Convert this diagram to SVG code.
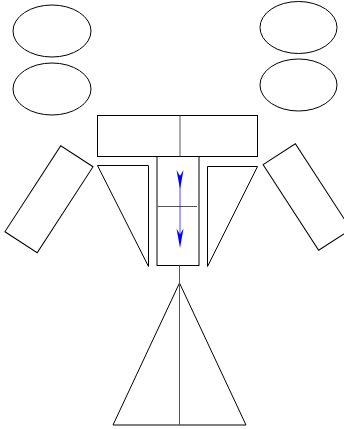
<svg xmlns="http://www.w3.org/2000/svg" width="344" height="429" viewBox="0 0 344 429">
<style>
.s{fill:#fff;stroke:#000;stroke-width:1}
.g{fill:none;stroke:#555;stroke-width:1}
.b{fill:none;stroke:#0000ff;stroke-width:1;stroke-opacity:0.7}
.bh{fill:#0000ff;stroke:none}
</style>
<rect width="344" height="429" fill="#fff"/>
<g id="ellipse-tl"><ellipse class="s" cx="52" cy="31" rx="39" ry="26"/></g>
<g id="ellipse-ml"><ellipse class="s" cx="52" cy="89" rx="39" ry="26"/></g>
<g id="ellipse-tr"><ellipse class="s" cx="298.5" cy="27.5" rx="38.5" ry="26"/></g>
<g id="ellipse-mr"><ellipse class="s" cx="298.5" cy="85" rx="38.5" ry="26"/></g>
<g id="top-bar"><rect class="s" x="97.5" y="115.5" width="160" height="41"/></g>
<g id="left-arm"><rect class="s" x="29.75" y="148" width="38.5" height="102.5" transform="rotate(33 49 199.2)"/></g>
<g id="right-arm"><rect class="s" x="287.75" y="146" width="38.5" height="102" transform="rotate(-33 307 197)"/></g>
<g id="left-tri"><polygon class="s" points="97.5,165.5 148.5,165.5 148.5,266.5"/></g>
<g id="right-tri"><polygon class="s" points="207.5,166.5 257.5,166.5 207.5,266.5"/></g>
<g id="column"><rect class="s" x="157" y="156.5" width="42" height="109"/><line class="g" x1="157" y1="206.5" x2="197" y2="206.5"/></g>
<g id="bottom-tri"><polygon class="s" points="179.5,283 246,425 113,425"/></g>
<g id="connectors">
<line class="g" x1="180" y1="115.5" x2="180" y2="156.5"/>
<line class="g" x1="179.5" y1="265.5" x2="179.5" y2="425" stroke-width="1.5"/>
<line class="b" x1="180" y1="175" x2="180" y2="236"/>
<path class="bh" d="M180,189 L176.5,170 L180,176 L183.5,170 Z"/>
<path class="bh" d="M180,248 L176.5,228.5 L180,234.5 L183.5,228.5 Z"/>
</g>
</svg>
